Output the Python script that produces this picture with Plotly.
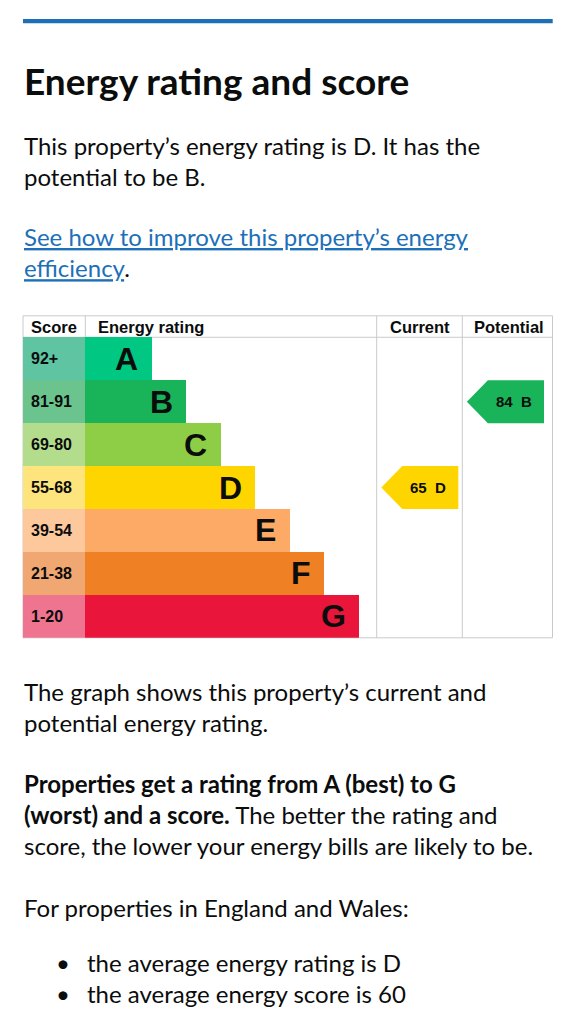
import plotly.graph_objects as go

# ---------------- data ----------------
bands = ["A", "B", "C", "D", "E", "F", "G"]
score_ranges = ["92+", "81-91", "69-80", "55-68", "39-54", "21-38", "1-20"]
band_min_scores = [92, 81, 69, 55, 39, 21, 1]
current_score = 65
potential_score = 84
column_headers = ["Score", "Energy rating", "Current", "Potential"]

title_text = "Energy rating and score"
intro_lines = ["This property\u2019s energy rating is D. It has the", "potential to be B."]
link_lines = ["See how to improve this property\u2019s energy", "efficiency"]
graph_lines = ["The graph shows this property\u2019s current and", "potential energy rating."]
rating_bold = ["Properties get a rating from A (best) to G", "(worst) and a score."]
rating_rest = [" The better the rating and", "score, the lower your energy bills are likely to be."]
england_text = "For properties in England and Wales:"
bullet_items = ["the average energy rating is D", "the average energy score is 60"]

# ---------------- styles ----------------
band_colors = ["#00c781", "#19b459", "#8dce46", "#ffd500", "#fcaa65", "#ef8023", "#e9153b"]
score_colors = ["#5ec4a2", "#6bc48e", "#b3dd8c", "#fee47c", "#fcc89c", "#f1a772", "#ee7490"]
TEXT = "#0b0c0c"
LINK = "#1d70b8"
GRID = "#c9cacb"
BODY_FONT = "Lato"
CHART_FONT = "Liberation Sans"

# window is 576x1024; the html body adds an 8px margin around the figure
VIEW_W, VIEW_H = 576, 1024
BODY_MARGIN = 8
W, H = VIEW_W - 2 * BODY_MARGIN, VIEW_H - 2 * BODY_MARGIN

# table geometry (window px)
TABLE_LEFT, TABLE_RIGHT = 23.0, 552.5
TABLE_TOP, TABLE_BOTTOM = 315.8, 637.8
TABLE_W = TABLE_RIGHT - TABLE_LEFT
COL_SCORE_END = 62.3
COL_RATING_END = 353.7
COL_CURRENT_END = 439.3
BAR_FIRST = 66.4
BAR_STEP = 34.55
LETTER_PAD = 12.5
ARROW_TIP_PAD = 4.6
ARROW_HEAD = 21.0
ARROW_RIGHT_PAD = [4.0, 8.5]

n = len(bands)
idx = list(range(n))


def fx(xpx):
    """window x px -> paper fraction"""
    return (xpx - BODY_MARGIN) / W


def fy(ypx):
    """window y px -> paper fraction"""
    return 1 - (ypx - BODY_MARGIN) / H


def band_of(score):
    for i, m in enumerate(band_min_scores):
        if score >= m:
            return i
    return n - 1


fig = go.Figure()

# score column cells
fig.add_trace(go.Bar(
    orientation="h", y=idx, x=[COL_SCORE_END] * n, base=0, width=1,
    marker=dict(color=score_colors, line=dict(width=0)), hoverinfo="skip",
    showlegend=False,
))
# rating bars
lengths = [BAR_FIRST + i * BAR_STEP for i in idx]
fig.add_trace(go.Bar(
    orientation="h", y=idx, x=lengths, base=COL_SCORE_END, width=1,
    marker=dict(color=band_colors, line=dict(width=0)), hoverinfo="skip",
    showlegend=False,
))

# score labels and band letters
for i in idx:
    fig.add_annotation(x=7, y=i, xref="x", yref="y", text=score_ranges[i],
                       showarrow=False, xanchor="left", yanchor="middle", borderpad=0,
                       font=dict(family=CHART_FONT, size=16, color=TEXT, weight="bold"))
    fig.add_annotation(x=COL_SCORE_END + lengths[i] - LETTER_PAD, y=i, xref="x", yref="y",
                       text=bands[i], showarrow=False, xanchor="right", yanchor="middle",
                       borderpad=0,
                       font=dict(family=CHART_FONT, size=32, color=TEXT, weight="bold"))

# current / potential arrows
cols = [(COL_RATING_END, COL_CURRENT_END), (COL_CURRENT_END, TABLE_W)]
for k, score in enumerate([current_score, potential_score]):
    b = band_of(score)
    left, right = cols[k]
    tip = left + ARROW_TIP_PAD
    neck = tip + ARROW_HEAD
    rx = right - ARROW_RIGHT_PAD[k]
    fig.add_trace(go.Scatter(
        x=[tip, neck, rx, rx, neck, tip], y=[b, b - 0.5, b - 0.5, b + 0.5, b + 0.5, b],
        mode="lines", fill="toself", fillcolor=band_colors[b],
        line=dict(width=0, color=band_colors[b]),
        hoverinfo="skip", showlegend=False,
    ))
    fig.add_annotation(x=(neck + rx) / 2 - 2, y=b, xref="x", yref="y",
                       text=f"{score}\u00a0\u00a0{bands[b]}", showarrow=False,
                       xanchor="center", yanchor="middle", borderpad=0,
                       font=dict(family=CHART_FONT, size=15, color=TEXT, weight="bold"))

# header labels
hdr_font = dict(family=CHART_FONT, size=16.5, color=TEXT, weight="bold")
fig.add_annotation(x=7, y=-0.75, xref="x", yref="y", text=column_headers[0], showarrow=False,
                   xanchor="left", yanchor="middle", borderpad=0, font=hdr_font)
fig.add_annotation(x=COL_SCORE_END + 12, y=-0.75, xref="x", yref="y", text=column_headers[1],
                   showarrow=False, xanchor="left", yanchor="middle", borderpad=0, font=hdr_font)
fig.add_annotation(x=(COL_RATING_END + COL_CURRENT_END) / 2, y=-0.75, xref="x", yref="y",
                   text=column_headers[2], showarrow=False, xanchor="center", yanchor="middle",
                   borderpad=0, font=hdr_font)
fig.add_annotation(x=(COL_CURRENT_END + TABLE_W) / 2 + 1.5, y=-0.75, xref="x", yref="y",
                   text=column_headers[3], showarrow=False, xanchor="center", yanchor="middle",
                   borderpad=0, font=hdr_font)

# table lines (paper coords)
def px(xrel):
    return fx(TABLE_LEFT + xrel)


row_h = (TABLE_BOTTOM - TABLE_TOP) / (n + 0.5)
header_bottom = TABLE_TOP + row_h / 2
line = dict(color=GRID, width=1)
shapes = [
    dict(type="rect", xref="paper", yref="paper", x0=px(0), x1=px(TABLE_W), y0=fy(TABLE_TOP), y1=fy(TABLE_BOTTOM), line=line, layer="below"),
    dict(type="line", xref="paper", yref="paper", x0=px(0), x1=px(TABLE_W), y0=fy(header_bottom), y1=fy(header_bottom), line=line, layer="below"),
    dict(type="line", xref="paper", yref="paper", x0=px(COL_SCORE_END), x1=px(COL_SCORE_END), y0=fy(TABLE_TOP), y1=fy(header_bottom), line=line, layer="below"),
    dict(type="line", xref="paper", yref="paper", x0=px(COL_RATING_END), x1=px(COL_RATING_END), y0=fy(TABLE_TOP), y1=fy(TABLE_BOTTOM), line=line, layer="below"),
    dict(type="line", xref="paper", yref="paper", x0=px(COL_CURRENT_END), x1=px(COL_CURRENT_END), y0=fy(TABLE_TOP), y1=fy(TABLE_BOTTOM), line=line, layer="below"),
    # blue rule at top of section
    dict(type="rect", xref="paper", yref="paper", x0=fx(23), x1=fx(552.7), y0=fy(23.3), y1=fy(19), line=dict(width=0), fillcolor=LINK, layer="below"),
]

# page text
ASC = 0.987


def page_text(text, x_px, baseline_px, size, color=TEXT, bold=False):
    top = baseline_px - ASC * size
    fig.add_annotation(xref="paper", yref="paper", x=fx(x_px), y=fy(top),
                       xanchor="left", yanchor="top", align="left", text=text,
                       showarrow=False, borderpad=0,
                       font=dict(family=BODY_FONT, size=size, color=color,
                                 weight="bold" if bold else "normal"))


BODY = 24
page_text(title_text, 23, 94, 37, bold=True)
page_text("<br>".join(intro_lines), 23, 154, BODY)
link_html = (f'<span style="color:{LINK}"><u>{link_lines[0]}</u></span><br>'
             f'<span style="color:{LINK}"><u>{link_lines[1]}</u></span>.')
page_text(link_html, 23, 245, BODY)
page_text("<br>".join(graph_lines), 23, 700, BODY)
para = (f"<b>{rating_bold[0]}</b><br><b>{rating_bold[1]}</b>{rating_rest[0]}<br>{rating_rest[1]}")
page_text(para, 23, 792, BODY)
page_text(england_text, 23, 916, BODY)
page_text("<br>".join(bullet_items), 86, 970.5, BODY)
page_text("\u2022<br>\u2022", 55, 970.5, BODY)

fig.update_layout(
    width=W, height=H, margin=dict(l=0, r=0, t=0, b=0),
    paper_bgcolor="white", plot_bgcolor="rgba(0,0,0,0)",
    barmode="overlay", bargap=0, showlegend=False, shapes=shapes,
    xaxis=dict(domain=[fx(TABLE_LEFT), fx(TABLE_RIGHT)], range=[0, TABLE_W],
               visible=False, fixedrange=True),
    yaxis=dict(domain=[fy(TABLE_BOTTOM), fy(TABLE_TOP)], range=[n - 0.5, -1.0],
               visible=False, fixedrange=True),
)

fig.write_html("out.html", config={"displayModeBar": False})
